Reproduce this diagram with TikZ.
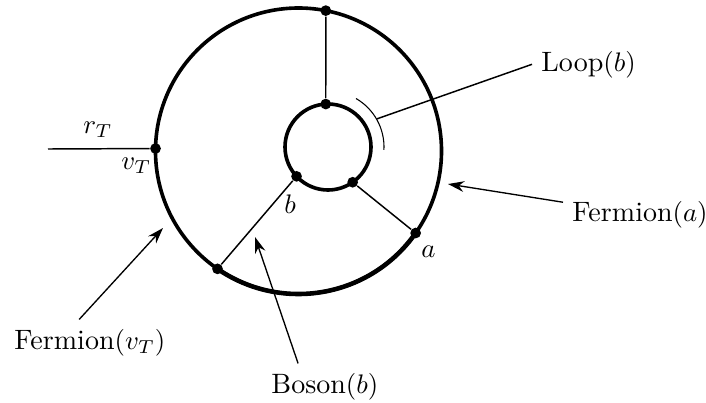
\documentclass[tikz,border=0pt]{standalone}
\usepackage{amsmath}
\usetikzlibrary{arrows.meta}

\begin{document}
\begin{tikzpicture}[x=0.01311cm,y=0.01311cm,font=\fontsize{10.45pt}{12.5pt}\selectfont,
  dot/.style={circle,fill=black,inner sep=0pt,minimum size=4pt},
  ringline/.style={line width=1.35pt},
  thinline/.style={line width=0.55pt},
  pointer/.style={line width=0.5pt,-{Stealth[length=6pt,width=4pt]}},
  lbl/.style={anchor=base west}]
  \useasboundingbox (0,0) rectangle (706,402);
  % centres of the two loops
  \coordinate (O) at (298.5,251);
  \coordinate (I) at (328,255);
  \draw[ringline] (O) circle[radius=143];
  \draw[line width=1.7pt] (O) ++(235.5:143) arc[start angle=235.5,end angle=325,radius=143];
  \draw[ringline] (I) circle[radius=43];
  % vertices
  \path (O) ++(79:143) node[dot] (ot) {};
  \path (O) ++(179:143) node[dot] (ol) {};
  \path (O) ++(235.5:143) node[dot] (ob) {};
  \path (O) ++(325:143) node[dot] (oa) {};
  \path (I) ++(93:43) node[dot] (it) {};
  \path (I) ++(223:43) node[dot] (ib) {};
  \path (I) ++(305:43) node[dot] (ia) {};
  \draw[thinline] (ot) -- (it);
  \draw[thinline] (ib) -- (ob);
  \draw[thinline] (ia) -- (oa);
  \coordinate (rT) at (48,253);
  \draw[thinline] (rT) -- (ol);
  % loop marker
  \draw[line width=0.4pt] (I) ++(-3:56) arc[start angle=-3,end angle=60,radius=56];
  \path (I) ++(30:56) coordinate (lm);
  % labels
  \node[lbl] (lp) at (532,331) {Loop$(b)$};
  \node[lbl] (fa) at (563,181) {Fermion$(a)$};
  \node[lbl] (fv) at (5,53) {Fermion$(v_T)$};
  \node[lbl] (bo) at (262,9) {Boson$(b)$};
  \node[lbl] (lrT) at (74,269) {$r_T$};
  \node[lbl] (lvT) at (112,233) {$v_T$};
  \node[lbl] (lb) at (275,189) {$b$};
  \node[lbl] (la) at (412,145) {$a$};
  % pointers
  \draw[thinline] (lm) -- (lp.west);
  \coordinate (faTip) at (448,218);
  \draw[pointer] ([yshift=4.5pt]fa.west) -- (faTip);
  \coordinate (fvTip) at (163,174);
  \draw[pointer] ([xshift=-4pt]fv.north) -- (fvTip);
  \coordinate (boTip) at (255,165);
  \draw[pointer] ([xshift=-10pt]bo.north) -- (boTip);
\end{tikzpicture}
\end{document}
